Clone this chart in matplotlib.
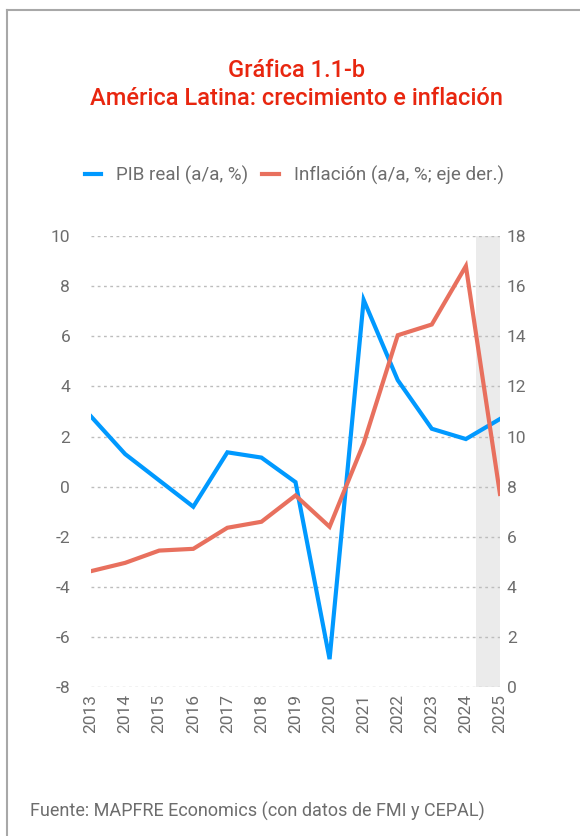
import matplotlib
matplotlib.use("Agg")
import matplotlib.pyplot as plt
from matplotlib.lines import Line2D

plt.rcParams['font.family'] = ['Roboto', 'DejaVu Sans']
plt.rcParams['axes.unicode_minus'] = False

# datos
years = [2013, 2014, 2015, 2016, 2017, 2018, 2019, 2020, 2021, 2022, 2023, 2024, 2025]
pib = [2.8, 1.3, 0.25, -0.8, 1.37, 1.16, 0.18, -6.88, 7.45, 4.25, 2.31, 1.9, 2.7]
inflacion = [4.63, 4.96, 5.45, 5.52, 6.36, 6.6, 7.65, 6.4, 9.73, 14.04, 14.47, 16.8, 7.71]
left_ticks = [-8, -6, -4, -2, 0, 2, 4, 6, 8, 10]
right_ticks = [0, 2, 4, 6, 8, 10, 12, 14, 16, 18]
shade_span = (2024.3, 2025)

blue = '#0099ff'
red = '#e8705e'
grey_txt = '#6d6d6d'

fig = plt.figure(figsize=(5.8, 8.36), dpi=100)
ax = fig.add_axes([0.157, 0.178, 0.705, 0.5397])
ax2 = ax.twinx()

ax.axvspan(*shade_span, color='#ebebeb', zorder=0, lw=0)
for t in left_ticks:
    ax.axhline(t, color='#bdbdbd', lw=1, ls=(0, (2, 2.5)), zorder=1)

ax.plot(years, pib, color=blue, lw=3, zorder=4, solid_joinstyle='miter')
ax2.plot(years, inflacion, color=red, lw=3, zorder=3, solid_joinstyle='miter')

ax.set_xlim(2013, 2025)
ax.set_ylim(-8, 10)
ax2.set_ylim(0, 18)
ax.set_yticks(left_ticks)
ax2.set_yticks(right_ticks)
ax.set_xticks(years)
ax.set_xticklabels([str(y) for y in years], rotation=90)

for a in (ax, ax2):
    for s in a.spines.values():
        s.set_visible(False)
    a.tick_params(length=0, labelsize=12.5, labelcolor=grey_txt)
ax.tick_params(axis='y', pad=15)
ax2.tick_params(axis='y', pad=5)
ax.tick_params(axis='x', pad=5)

# titulo
fig.text(0.512, 0.916, 'Gráfica 1.1-b', ha='center', va='center', color='#e8260f',
         fontsize=17, fontweight='medium')
fig.text(0.512, 0.882, 'América Latina: crecimiento e inflación', ha='center', va='center',
         color='#e8260f', fontsize=17, fontweight='medium')

# leyenda
handles = [Line2D([], [], color=blue, lw=3), Line2D([], [], color=red, lw=3)]
fig.legend(handles, ['PIB real (a/a, %)', 'Inflación (a/a, %; eje der.)'],
           loc='center', bbox_to_anchor=(0.507, 0.79), ncol=2, frameon=False,
           fontsize=13.5, labelcolor=grey_txt, handlelength=0.9, handletextpad=0.8,
           columnspacing=0.7)

fig.text(0.052, 0.03, 'Fuente: MAPFRE Economics (con datos de FMI y CEPAL)',
         color=grey_txt, fontsize=13, va='center')

# marco
fig.add_artist(Line2D([0.012, 0.012], [0, 0.988], color='#a8a8a8', lw=1.5,
                      transform=fig.transFigure))
fig.add_artist(Line2D([0.012, 1], [0.988, 0.988], color='#a8a8a8', lw=1.5,
                      transform=fig.transFigure))

fig.savefig('out.png', dpi=100)
